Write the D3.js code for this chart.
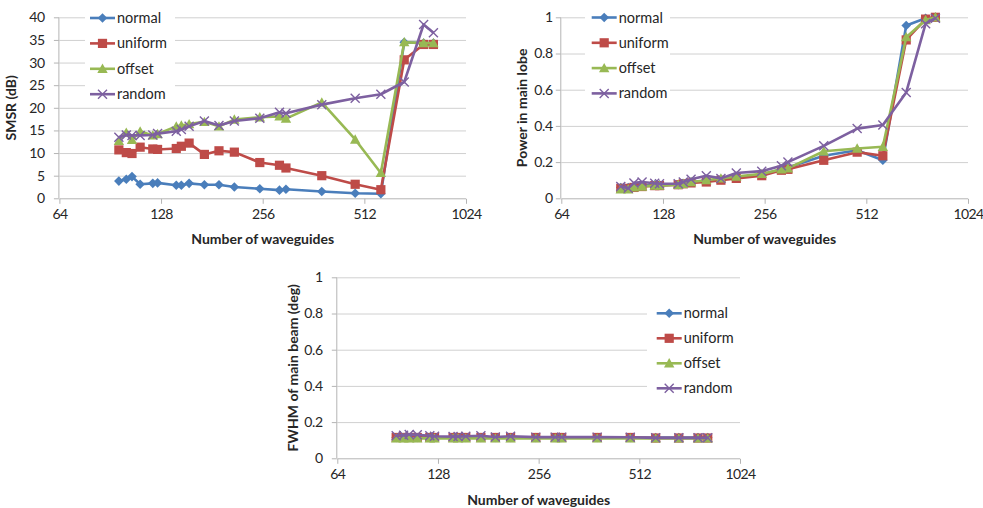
<!DOCTYPE html>
<html>
<head>
<meta charset="utf-8">
<script src="https://cdn.jsdelivr.net/npm/d3@7"></script>
<style>
  html, body { margin: 0; padding: 0; background: #fff; }
  svg { display: block; font-family: Lato, "Open Sans", sans-serif; }
</style>
</head>
<body>
<svg id="chart" width="983" height="508"></svg>
<script>
// ---------- data ----------
const seriesNames = ["normal", "uniform", "offset", "random"];
const xTicks = [64, 128, 256, 512, 1024];
const waveguides = [96, 101, 105, 111, 121, 125, 142, 147, 155, 172, 190, 211, 251, 287, 300, 383, 481, 573, 672, 767, 820];

const smsrTicks = [0, 5, 10, 15, 20, 25, 30, 35, 40];
const smsrNormal  = [3.8, 4.2, 4.8, 3.1, 3.3, 3.4, 2.9, 2.9, 3.3, 3.0, 3.0, 2.5, 2.1, 1.8, 2.0, 1.5, 1.1, 1.0, 34.5, 34.3, 34.3];
const smsrUniform = [10.7, 10.1, 9.9, 11.3, 10.9, 10.8, 11.0, 11.5, 12.2, 9.7, 10.5, 10.2, 7.9, 7.3, 6.7, 5.0, 3.1, 1.9, 30.6, 34.0, 34.0];
const smsrOffset  = [12.7, 14.5, 12.9, 14.8, 13.9, 14.2, 15.9, 16.1, 16.4, 16.9, 15.9, 17.4, 17.9, 18.1, 17.6, 21.2, 13.0, 5.6, 34.5, 34.3, 34.3];
const smsrRandom  = [13.5, 14.0, 13.9, 13.9, 14.0, 14.3, 14.8, 15.2, 15.9, 17.1, 16.1, 17.1, 17.7, 19.0, 18.8, 20.7, 22.1, 23.0, 25.7, 38.4, 36.6];

const fracTicks = [0, 0.2, 0.4, 0.6, 0.8, 1];
const powerNormal  = [0.06, 0.06, 0.065, 0.07, 0.075, 0.075, 0.075, 0.08, 0.09, 0.095, 0.105, 0.115, 0.13, 0.16, 0.17, 0.235, 0.265, 0.21, 0.955, 0.995, 1.0];
const powerUniform = [0.055, 0.055, 0.06, 0.065, 0.07, 0.07, 0.075, 0.08, 0.085, 0.09, 0.10, 0.11, 0.125, 0.155, 0.16, 0.21, 0.255, 0.235, 0.875, 0.99, 1.0];
const powerOffset  = [0.05, 0.05, 0.06, 0.065, 0.07, 0.07, 0.075, 0.08, 0.09, 0.10, 0.11, 0.12, 0.135, 0.16, 0.165, 0.26, 0.275, 0.285, 0.89, 0.985, 1.0];
const powerRandom  = [0.065, 0.055, 0.085, 0.09, 0.083, 0.08, 0.08, 0.09, 0.105, 0.125, 0.11, 0.14, 0.15, 0.18, 0.2, 0.29, 0.385, 0.405, 0.585, 0.965, 0.995];

const fwhmNormal  = [0.115, 0.115, 0.115, 0.115, 0.115, 0.115, 0.115, 0.115, 0.115, 0.115, 0.115, 0.115, 0.115, 0.115, 0.115, 0.115, 0.115, 0.115, 0.115, 0.115, 0.115];
const fwhmUniform = [0.115, 0.115, 0.115, 0.115, 0.115, 0.115, 0.115, 0.115, 0.115, 0.115, 0.115, 0.115, 0.115, 0.115, 0.115, 0.115, 0.115, 0.112, 0.112, 0.112, 0.112];
const fwhmOffset  = [0.11, 0.11, 0.11, 0.11, 0.11, 0.11, 0.11, 0.11, 0.11, 0.11, 0.11, 0.11, 0.11, 0.11, 0.11, 0.11, 0.11, 0.11, 0.11, 0.11, 0.11];
const fwhmRandom  = [0.125, 0.128, 0.132, 0.13, 0.125, 0.122, 0.12, 0.12, 0.122, 0.125, 0.118, 0.122, 0.117, 0.117, 0.117, 0.117, 0.116, 0.113, 0.113, 0.113, 0.113];

// ---------- styles ----------
const colors = ["#4A7EBB", "#BE4B48", "#98B954", "#7D60A0"];
const gridColor = "#D0D0D0";
const axisColor = "#B4B4B4";
const textColor = "#262626";

const svg = d3.select("#chart");

function markerPath(kind) {
  if (kind === 0) { const r = 4.8; return `M0,${-r}L${r},0L0,${r}L${-r},0Z`; }
  if (kind === 1) { const r = 4.6; return `M${-r},${-r}H${r}V${r}H${-r}Z`; }
  if (kind === 2) { const r = 5.2; return `M0,${-r}L${r},${r * 0.8}L${-r},${r * 0.8}Z`; }
  const r = 4.5; return `M${-r},${-r}L${r},${r}M${-r},${r}L${r},${-r}`;
}

function drawMarker(g, kind, color) {
  const p = g.append("path").attr("d", markerPath(kind));
  if (kind === 3) p.attr("fill", "none").attr("stroke", color).attr("stroke-width", 1.4);
  else p.attr("fill", color).attr("stroke", "none");
}

function drawChart(cfg) {
  const g = svg.append("g");
  const x = d3.scaleLog().base(2).domain([64, 1024]).range([cfg.left, cfg.right]);
  const y = d3.scaleLinear().domain([cfg.yTicks[0], cfg.yTicks[cfg.yTicks.length - 1]]).range([cfg.bottom, cfg.top]);

  // gridlines
  g.append("g").selectAll("line").data(cfg.yTicks.slice(1)).join("line")
    .attr("x1", cfg.left).attr("x2", cfg.right)
    .attr("y1", d => y(d) + 0.5).attr("y2", d => y(d) + 0.5)
    .attr("stroke", gridColor).attr("stroke-width", 1);

  // axes
  const xAxis = d3.axisBottom(x).tickValues(xTicks).tickFormat(d3.format("d")).tickSize(5).tickPadding(5);
  const gx = g.append("g").attr("transform", `translate(0,${cfg.bottom + 0.5})`).call(xAxis);
  gx.select(".domain").attr("stroke", axisColor).attr("d", `M${cfg.left},0H${cfg.right}`);
  gx.selectAll(".tick line").attr("stroke", axisColor);
  gx.selectAll(".tick text").attr("fill", textColor).style("font-size", "14px")
    .style("letter-spacing", "-0.6px").style("font-family", "Lato, sans-serif");

  const yAxis = d3.axisLeft(y).tickValues(cfg.yTicks).tickFormat(cfg.yFormat).tickSize(5).tickPadding(cfg.yPad);
  const gy = g.append("g").attr("transform", `translate(${cfg.left - 0.5},0)`).call(yAxis);
  gy.select(".domain").attr("stroke", axisColor).attr("d", `M0,${cfg.top}V${cfg.bottom}`);
  gy.selectAll(".tick line").attr("stroke", axisColor);
  gy.selectAll(".tick text").attr("fill", textColor).style("font-size", "14px")
    .style("letter-spacing", "-0.3px").style("font-family", "Lato, sans-serif");

  // legend box (white, hides gridlines)
  const lg = cfg.legend;
  g.append("rect").attr("x", lg.boxX).attr("y", lg.boxY).attr("width", lg.boxW).attr("height", lg.boxH).attr("fill", "#fff");

  // series
  const line = d3.line().x((d, i) => x(waveguides[i])).y(d => y(d));
  cfg.series.forEach((vals, si) => {
    const sg = g.append("g");
    sg.append("path").datum(vals).attr("d", line)
      .attr("fill", "none").attr("stroke", colors[si]).attr("stroke-width", 2.6)
      .attr("stroke-linejoin", "round");
    vals.forEach((v, i) => {
      const mg = sg.append("g").attr("transform", `translate(${x(waveguides[i])},${y(v)})`);
      drawMarker(mg, si, colors[si]);
    });
  });

  // legend entries
  seriesNames.forEach((name, si) => {
    const yy = lg.y0 + si * lg.dy;
    const eg = g.append("g");
    eg.append("line").attr("x1", lg.x0).attr("x2", lg.x0 + 25).attr("y1", yy).attr("y2", yy)
      .attr("stroke", colors[si]).attr("stroke-width", 2.6);
    const mg = eg.append("g").attr("transform", `translate(${lg.x0 + 12.5},${yy})`);
    drawMarker(mg, si, colors[si]);
    eg.append("text").attr("x", lg.x0 + 27).attr("y", yy).attr("dy", "0.35em")
      .attr("fill", textColor).style("font-size", "14.5px").text(name);
  });

  // axis titles
  g.append("text").attr("x", (cfg.left + cfg.right) / 2).attr("y", cfg.xTitleY)
    .attr("text-anchor", "middle").attr("fill", textColor)
    .style("font-size", "14px").style("font-weight", "bold").text("Number of waveguides");
  g.append("text").attr("transform", `translate(${cfg.yTitleX},${(cfg.top + cfg.bottom) / 2}) rotate(-90)`)
    .attr("text-anchor", "middle").attr("fill", textColor)
    .style("font-size", "14px").style("font-weight", "bold").text(cfg.yTitle);
}

const fmtFrac = d => d === 0 || d === 1 ? String(d) : d3.format(".1f")(d);

drawChart({
  left: 59.4, right: 466, top: 17.3, bottom: 198.3,
  yTicks: smsrTicks, yFormat: d3.format("d"), yPad: 9,
  series: [smsrNormal, smsrUniform, smsrOffset, smsrRandom],
  yTitle: "SMSR (dB)", yTitleX: 16, xTitleY: 244,
  legend: { x0: 90, y0: 18, dy: 25.4, boxX: 85, boxY: 5, boxW: 90, boxH: 102 }
});

drawChart({
  left: 561.3, right: 968, top: 17.3, bottom: 198.3,
  yTicks: fracTicks, yFormat: fmtFrac, yPad: 3,
  series: [powerNormal, powerUniform, powerOffset, powerRandom],
  yTitle: "Power in main lobe", yTitleX: 527, xTitleY: 244,
  legend: { x0: 591.7, y0: 17.5, dy: 25.3, boxX: 585, boxY: 5, boxW: 85, boxH: 102 }
});

drawChart({
  left: 337.3, right: 740, top: 277.3, bottom: 458.3,
  yTicks: fracTicks, yFormat: fmtFrac, yPad: 9,
  series: [fwhmNormal, fwhmUniform, fwhmOffset, fwhmRandom],
  yTitle: "FWHM of main beam (deg)", yTitleX: 298, xTitleY: 505,
  legend: { x0: 656.7, y0: 313.3, dy: 25, boxX: 647, boxY: 298, boxW: 98, boxH: 104 }
});
</script>
</body>
</html>
